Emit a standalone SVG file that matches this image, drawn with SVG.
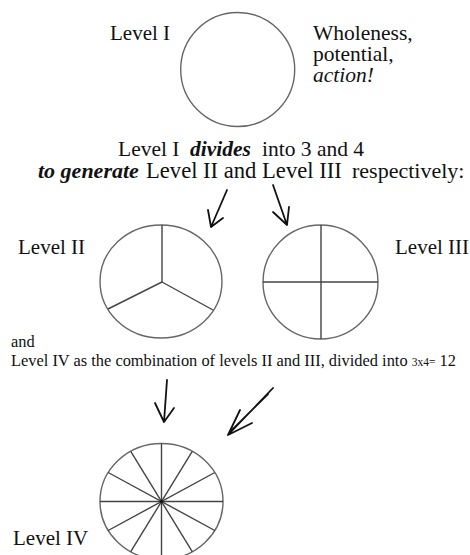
<svg xmlns="http://www.w3.org/2000/svg" width="470" height="555" viewBox="0 0 470 555">
<style>
text{font-family:"Liberation Serif","Times New Roman",serif;fill:#111}
.big{font-size:21.5px}
.lbl{font-size:21px}
.sm{font-size:16.4px}
.bi{font-weight:bold;font-style:italic}
.it{font-style:italic}
.ring{fill:#fff;stroke:#666;stroke-width:1.4}
.div{stroke:#444;stroke-width:1.4;fill:none}
.arr{stroke:#111;stroke-width:1.8;fill:none;stroke-linecap:round;stroke-linejoin:round}
</style>
<rect width="470" height="555" fill="#fff"/>
<g id="level1">
<circle class="ring" cx="237.7" cy="69.5" r="57"/>
<text class="lbl" x="110" y="40">Level I</text>
</g>
<g id="level1-notes">
<text class="big" x="313" y="40">Wholeness,</text>
<text class="big" x="313" y="61">potential,</text>
<text class="big it" x="313" y="82">action!</text>
</g>
<g id="caption1">
<text class="big" y="156"><tspan x="118">Level I</tspan><tspan class="bi" x="190">divides</tspan><tspan x="262">into 3 and 4</tspan></text>
<text style="font-size:22px" y="178"><tspan class="bi" x="38">to generate</tspan><tspan x="146" style="font-size:22.6px">Level II and Level III</tspan><tspan x="352">respectively:</tspan></text>
</g>
<g id="level2">
<ellipse class="ring" cx="161" cy="281.5" rx="61" ry="56.5"/>
<path class="div" d="M162 225 V282 L108 309 M162 282 L213 310"/>
<text class="lbl" x="18" y="254">Level II</text>
</g>
<g id="level3">
<ellipse class="ring" cx="320.5" cy="282" rx="57.5" ry="57"/>
<path class="div" d="M321 225 V339 M263 282 H378"/>
<text class="lbl" x="395" y="254">Level III</text>
</g>
<g id="caption2">
<text class="sm" x="11" y="347">and</text>
<text class="sm" x="11" y="366">Level IV as the combination of levels II and III, divided into <tspan style="font-size:11.5px">3x4=</tspan> 12</text>
</g>
<g id="level4">
<ellipse class="ring" cx="161.5" cy="501.5" rx="61.5" ry="58"/>
<g class="div">
<line x1="161.5" y1="443.5" x2="161.5" y2="559.5"/>
<line x1="100" y1="501.5" x2="223" y2="501.5"/>
<line x1="192.25" y1="451.3" x2="130.75" y2="551.7"/>
<line x1="214.8" y1="472.5" x2="108.2" y2="530.5"/>
<line x1="130.75" y1="451.3" x2="192.25" y2="551.7"/>
<line x1="108.2" y1="472.5" x2="214.8" y2="530.5"/>
</g>
<circle cx="161.5" cy="501.5" r="1.6" fill="#111"/>
<text class="lbl" x="13" y="545">Level IV</text>
</g>
<g id="connectors" class="arr">
<path d="M227 190 L211 227 M208 210 L211 227 L223 218"/>
<path d="M273 185 L287 225 M273 212 L287 225 L289 207"/>
<path d="M167 380 L164 422 M155 403 L164 422 L174 408"/>
<path d="M273 388 L228 435 M268 394 L232 430 M240 410 L228 435 L252 423"/>
</g>
</svg>
